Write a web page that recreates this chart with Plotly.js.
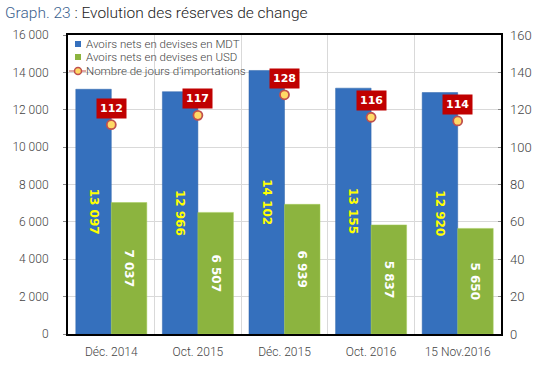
<!DOCTYPE html>
<html><head><meta charset="utf-8">
<script src="https://cdn.plot.ly/plotly-3.0.1.min.js"></script>
<style>body{margin:0;background:#fff}#c{width:539px;height:372px}</style>
</head><body><div id="c"></div>
<script>
const categories = ["Déc. 2014", "Oct. 2015", "Déc. 2015", "Oct. 2016", "15 Nov.2016"];
const mdt = [13097, 12966, 14102, 13155, 12920];
const usd = [7037, 6507, 6939, 5837, 5650];
const jours = [112, 117, 128, 116, 114];
const seriesNames = ["Avoirs nets en devises en MDT", "Avoirs nets en devises en USD", "Nombre de jours d'importations"];
const fmt = v => String(v).replace(/\B(?=(\d{3})+(?!\d))/g, " ");

const FONT = "Roboto, Lato, sans-serif";
const BLUE = "#3570bd", GREEN = "#8cb43f";
const traces = [
  {type:"bar", name:seriesNames[0], x:categories, y:mdt,
   marker:{color:BLUE, line:{color:"#2f64aa", width:0.5}},
   text:mdt.map(fmt), textposition:"inside", insidetextanchor:"middle", textangle:90,
   insidetextfont:{family:"DejaVu Sans", size:12, color:"#ffff00", weight:"bold"},
   constraintext:"none", hoverinfo:"skip"},
  {type:"bar", name:seriesNames[1], x:categories, y:usd,
   marker:{color:GREEN, line:{color:"#a4cc5a", width:0.5}},
   text:usd.map(fmt), textposition:"inside", insidetextanchor:"middle", textangle:90,
   insidetextfont:{family:"DejaVu Sans", size:12, color:"#ffffff", weight:"bold"},
   constraintext:"none", hoverinfo:"skip"},
  {type:"scatter", mode:"markers", name:seriesNames[2], x:categories, y:jours, yaxis:"y2",
   marker:{size:9, color:"#ffd966", line:{color:"#c0504d", width:1.8}}, hoverinfo:"skip"}
];

// pixel -> paper helpers for the hand-made legend (plot area 68..501 x 35..334)
const L=68, R=501, T=35, B=334;
const px = x => (x-L)/(R-L), py = y => (B-y)/(B-T);

const annotations = categories.map((c,i)=>({
  x:c, y:jours[i], xref:"x", yref:"y2", yanchor:"bottom", yshift:6, showarrow:false,
  text:String(jours[i]), bgcolor:"#c00000", borderpad:3,
  font:{family:"DejaVu Sans", size:11, color:"#ffffff", weight:"bold"}
}));
annotations.push({xref:"paper", yref:"paper", x:px(3), y:py(2), xanchor:"left", yanchor:"top", showarrow:false,
  text:"<span style='color:#3b5f8e'>Graph. 23</span> : Evolution des réserves de change",
  font:{family:FONT, size:15.5, color:"#222222", weight:300}});
const rowY = [44, 57, 71];
seriesNames.forEach((n,i)=>annotations.push({xref:"paper", yref:"paper", x:px(84), y:py(rowY[i]),
  xanchor:"left", yanchor:"middle", showarrow:false, text:n, font:{family:FONT, size:11.5, color:"#444", weight:300}}));

const shapes = [
  {type:"rect", xref:"paper", yref:"paper", x0:px(69), x1:px(247), y0:py(36), y1:py(79), fillcolor:"#ffffff", line:{width:0}, layer:"below"},
  {type:"rect", xref:"paper", yref:"paper", x0:px(75), x1:px(81), y0:py(41), y1:py(47), fillcolor:BLUE, line:{width:0}},
  {type:"rect", xref:"paper", yref:"paper", x0:px(75), x1:px(81), y0:py(54), y1:py(60), fillcolor:GREEN, line:{width:0}},
  {type:"line", xref:"paper", yref:"paper", x0:px(69), x1:px(86), y0:py(71), y1:py(71), line:{color:"#c0504d", width:1}},
  {type:"circle", xref:"paper", yref:"paper", x0:px(74.5), x1:px(81.5), y0:py(67.5), y1:py(74.5), fillcolor:"#ffd966", line:{color:"#c0504d", width:1.5}}
];

const tf = {family:FONT, size:12, color:"#444", weight:300};
const layout = {
  width:539, height:372,
  margin:{l:L, r:539-R, t:T, b:372-B},
  paper_bgcolor:"#ffffff", plot_bgcolor:"#ffffff",
  separators:". ",
  barmode:"group", bargap:0.18, bargroupgap:0,
  showlegend:false,
  font:{family:FONT, size:12, color:"#444"},
  xaxis:{type:"category", tickson:"boundaries", showgrid:true, gridcolor:"#d9d9d9",
    showline:true, linecolor:"#000", linewidth:2, mirror:true, ticks:"", ticklabelstandoff:6,
    tickfont:tf},
  yaxis:{range:[0,16000], dtick:2000, tickformat:",d", showgrid:true, gridcolor:"#d9d9d9",
    showline:true, linecolor:"#000", linewidth:2, mirror:true, ticks:"outside", ticklen:3, tickcolor:"#888",
    ticklabelstandoff:12, tickfont:tf, zeroline:false},
  yaxis2:{range:[0,160], dtick:20, overlaying:"y", side:"right", showgrid:false, zeroline:false,
    ticks:"inside", ticklen:3, tickcolor:"#888", ticklabelstandoff:8,
    tickfont:{family:FONT, size:13, color:"#444", weight:300}},
  annotations:annotations, shapes:shapes
};
Plotly.newPlot("c", traces, layout, {displayModeBar:false, staticPlot:true});
</script></body></html>
